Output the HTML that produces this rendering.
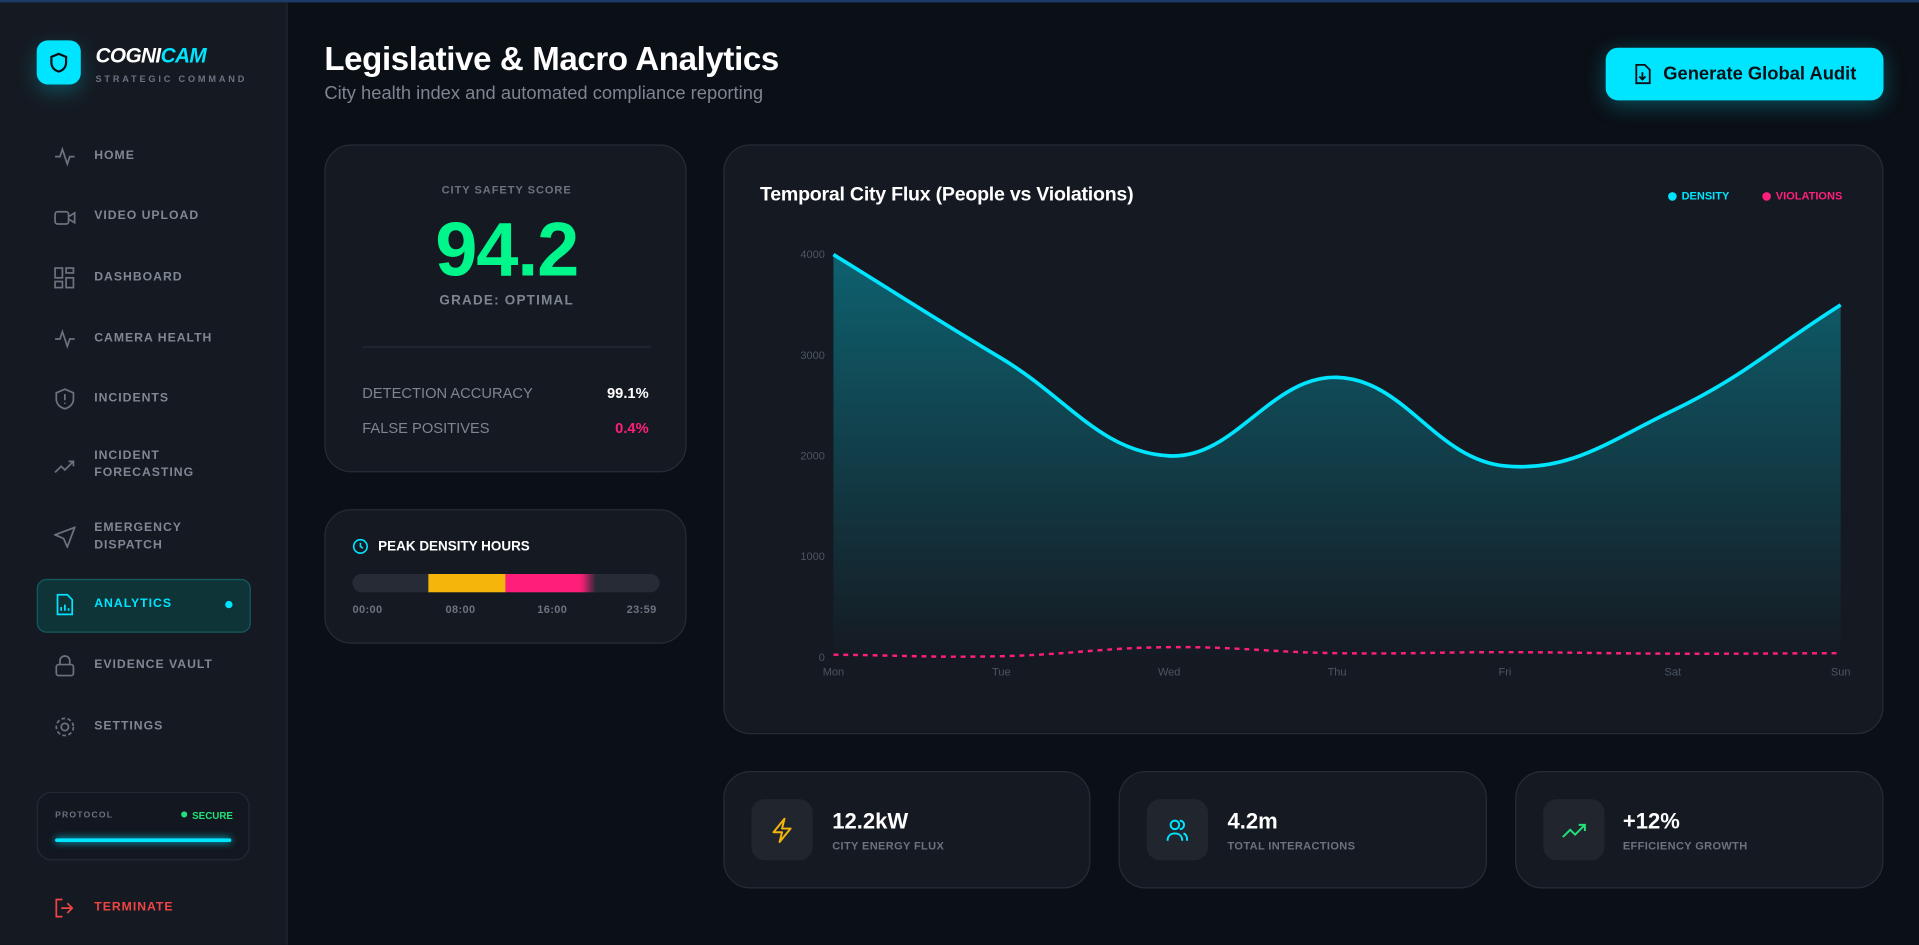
<!DOCTYPE html>
<html><head><meta charset="utf-8"><style>
*{box-sizing:border-box;margin:0;padding:0}
html,body{width:1919px;height:945px;overflow:hidden;background:#0b0f16;font-family:"Liberation Sans",sans-serif}
#w{position:absolute;left:0;top:0;width:1568px;height:772px;transform:scale(1.22385);transform-origin:0 0;background:#0b0f16}
.a{position:absolute}
.nav{position:absolute;left:77px;font-size:10px;font-weight:bold;color:#7f8794;letter-spacing:.8px;line-height:14px}
.ic{position:absolute;left:44px;width:18px;height:18px}
.card{position:absolute;background:#151a22;border:1px solid #262c36;border-radius:22px}
.lbl{font-size:9px;font-weight:bold;color:#6b7280;letter-spacing:.3px}
</style></head><body>
<div id="w">
<div class="a" style="left:0;top:0;width:1568px;height:2px;background:#1d3b66"></div>
<div class="a" style="left:0;top:2px;width:235px;height:770px;background:#151a22;border-right:1px solid #222833"></div>
<div class="a" style="left:30px;top:33px;width:36px;height:36px;border-radius:9px;background:#00e5ff;box-shadow:0 6px 16px rgba(0,229,255,.25)">
<svg width="36" height="36" viewBox="0 0 36 36"><path d="M18 11l6 2.5v4.5c0 4-2.6 6.5-6 7.5-3.4-1-6-3.5-6-7.5v-4.5z" fill="none" stroke="#0b1016" stroke-width="1.8"/></svg></div>
<div class="a" style="left:78px;top:36px;font-size:17px;font-weight:bold;font-style:italic;color:#fff;letter-spacing:-.5px">COGNI<span style="color:#00e5ff">CAM</span></div>
<div class="a" style="left:78px;top:60px;font-size:7.5px;font-weight:bold;color:#6b7280;letter-spacing:2.3px">STRATEGIC COMMAND</div>

<svg class="ic" style="top:119px" viewBox="0 0 18 18"><path d="M1 9h4l2-6 4 12 2-6h4" fill="none" stroke="#6b7280" stroke-width="1.4"/></svg>
<div class="nav" style="top:121px">HOME</div>
<svg class="ic" style="top:169px" viewBox="0 0 18 18"><rect x="1" y="4" width="11" height="10" rx="2" fill="none" stroke="#6b7280" stroke-width="1.4"/><path d="M12 8l5-3v8l-5-3" fill="none" stroke="#6b7280" stroke-width="1.4"/></svg>
<div class="nav" style="top:170px">VIDEO UPLOAD</div>
<svg class="ic" style="top:218px" viewBox="0 0 18 18"><g fill="none" stroke="#6b7280" stroke-width="1.4"><rect x="1" y="1" width="6" height="8"/><rect x="10" y="1" width="6" height="4"/><rect x="10" y="9" width="6" height="8"/><rect x="1" y="12" width="6" height="5"/></g></svg>
<div class="nav" style="top:220px">DASHBOARD</div>
<svg class="ic" style="top:268px" viewBox="0 0 18 18"><path d="M1 9h4l2-6 4 12 2-6h4" fill="none" stroke="#6b7280" stroke-width="1.4"/></svg>
<div class="nav" style="top:270px">CAMERA HEALTH</div>
<svg class="ic" style="top:317px" viewBox="0 0 18 18"><path d="M9 1l7 3v5c0 4-3 7-7 8-4-1-7-4-7-8V4z" fill="none" stroke="#6b7280" stroke-width="1.4"/><path d="M9 5v5M9 12v1" stroke="#6b7280" stroke-width="1.4"/></svg>
<div class="nav" style="top:319px">INCIDENTS</div>
<svg class="ic" style="top:372px" viewBox="0 0 18 18"><path d="M1 14l5-5 3 3 7-7M12 5h4v4" fill="none" stroke="#6b7280" stroke-width="1.4"/></svg>
<div class="nav" style="top:366px">INCIDENT<br>FORECASTING</div>
<svg class="ic" style="top:430px" viewBox="0 0 18 18"><path d="M17 1L1 7l7 3 3 7z" fill="none" stroke="#6b7280" stroke-width="1.4"/></svg>
<div class="nav" style="top:425px">EMERGENCY<br>DISPATCH</div>
<div class="a" style="left:30px;top:473px;width:175px;height:44px;border-radius:8px;background:#0f3438;border:1px solid #145a60"></div>
<svg class="ic" style="top:485px" viewBox="0 0 18 18"><path d="M3 1h8l4 4v12H3z" fill="none" stroke="#00e5ff" stroke-width="1.4"/><path d="M6 14v-3M9 14V9M12 14v-2" stroke="#00e5ff" stroke-width="1.4"/></svg>
<div class="nav" style="top:487px;color:#00e5ff">ANALYTICS</div>
<div class="a" style="left:184px;top:491px;width:6px;height:6px;border-radius:50%;background:#00e5ff"></div>
<svg class="ic" style="top:535px" viewBox="0 0 18 18"><rect x="2" y="8" width="14" height="9" rx="2" fill="none" stroke="#6b7280" stroke-width="1.4"/><path d="M5 8V5a4 4 0 0 1 8 0v3" fill="none" stroke="#6b7280" stroke-width="1.4"/></svg>
<div class="nav" style="top:537px">EVIDENCE VAULT</div>
<svg class="ic" style="top:585px" viewBox="0 0 18 18"><circle cx="9" cy="9" r="3" fill="none" stroke="#6b7280" stroke-width="1.4"/><circle cx="9" cy="9" r="7" fill="none" stroke="#6b7280" stroke-width="1.4" stroke-dasharray="3 2"/></svg>
<div class="nav" style="top:587px">SETTINGS</div>

<div class="a" style="left:30px;top:647px;width:174px;height:56px;border-radius:12px;background:#121720;border:1px solid #242a34"></div>
<div class="a" style="left:45px;top:663px;font-size:7px;font-weight:bold;color:#6b7280;letter-spacing:1px">PROTOCOL</div>
<div class="a" style="left:148px;top:662px;font-size:8px;font-weight:bold;color:#22e07a"><span style="display:inline-block;width:5px;height:5px;border-radius:50%;background:#22e07a;margin-right:4px;vertical-align:1px"></span>SECURE</div>
<div class="a" style="left:45px;top:685px;width:144px;height:3px;border-radius:2px;background:#00e5ff;box-shadow:0 0 6px #00e5ff"></div>
<svg class="ic" style="top:733px" viewBox="0 0 18 18"><path d="M7 2H2v14h5M11 5l4 4-4 4M15 9H6" fill="none" stroke="#ef4444" stroke-width="1.4"/></svg>
<div class="nav" style="top:735px;color:#ef4444">TERMINATE</div>

<div class="a" style="left:265px;top:33px;font-size:27px;font-weight:bold;color:#fff;letter-spacing:-.3px">Legislative &amp; Macro Analytics</div>
<div class="a" style="left:265px;top:68px;font-size:15px;color:#7d8590">City health index and automated compliance reporting</div>
<div class="a" style="left:1312px;top:39px;width:227px;height:43px;border-radius:10px;background:#00e5ff;box-shadow:0 4px 18px rgba(0,229,255,.3);font-size:15px;font-weight:bold;color:#0b1016;line-height:43px;padding-left:47px">
<svg style="position:absolute;left:22px;top:13px" width="16" height="17" viewBox="0 0 16 17"><path d="M3 1h7l4 4v11H3z M8 7v6M5.5 10.5L8 13l2.5-2.5" fill="none" stroke="#0b1016" stroke-width="1.5"/></svg>Generate Global Audit</div>

<div class="card" style="left:265px;top:118px;width:296px;height:268px">
<div class="a lbl" style="left:0;width:296px;text-align:center;top:31px;font-size:9px;letter-spacing:.8px">CITY SAFETY SCORE</div>
<div class="a" style="left:0;width:296px;text-align:center;top:50px;font-size:62px;font-weight:bold;color:#00f58a;letter-spacing:-1px">94.2</div>
<div class="a" style="left:0;width:296px;text-align:center;top:121px;font-size:11px;font-weight:bold;color:#7d8590;letter-spacing:1px">GRADE: OPTIMAL</div>
<div class="a" style="left:30px;top:164px;width:236px;height:1px;background:#262c36"></div>
<div class="a" style="left:30px;top:195px;font-size:12px;color:#7d8590">DETECTION ACCURACY</div>
<div class="a" style="right:30px;top:195px;font-size:12px;font-weight:bold;color:#fff">99.1%</div>
<div class="a" style="left:30px;top:224px;font-size:12px;color:#7d8590">FALSE POSITIVES</div>
<div class="a" style="right:30px;top:224px;font-size:12px;font-weight:bold;color:#ff1f7a">0.4%</div>
</div>

<div class="card" style="left:265px;top:416px;width:296px;height:110px">
<svg class="a" style="left:22px;top:23px" width="13" height="13" viewBox="0 0 13 13"><circle cx="6.5" cy="6.5" r="5.5" fill="none" stroke="#00e5ff" stroke-width="1.3"/><path d="M6.5 3.5v3l2 1.5" fill="none" stroke="#00e5ff" stroke-width="1.3"/></svg>
<div class="a" style="left:43px;top:24px;font-size:11px;font-weight:bold;color:#fff">PEAK DENSITY HOURS</div>
<div class="a" style="left:22px;top:52px;width:251px;height:15px;border-radius:8px;background:#262b35;overflow:hidden">
<div class="a" style="left:62px;top:0;width:63px;height:15px;background:#f5b50a"></div>
<div class="a" style="left:125px;top:0;width:62px;height:15px;background:#ff1f7a"></div>
<div class="a" style="left:187px;top:0;width:12px;height:15px;background:linear-gradient(90deg,#ff1f7a,#262b35)"></div></div>
<div class="a lbl" style="left:22px;top:76px">00:00</div>
<div class="a lbl" style="left:98px;top:76px">08:00</div>
<div class="a lbl" style="left:173px;top:76px">16:00</div>
<div class="a lbl" style="left:246px;top:76px">23:59</div>
</div>

<div class="card" style="left:591px;top:118px;width:948px;height:482px"></div>
<div class="a" style="left:621px;top:151px;font-size:16px;font-weight:bold;color:#fff;letter-spacing:-.2px">Temporal City Flux (People vs Violations)</div>
<div class="a" style="left:1363px;top:155px;font-size:9px;font-weight:bold;color:#00e5ff"><span style="display:inline-block;width:7px;height:7px;border-radius:50%;background:#00e5ff;margin-right:4px;vertical-align:-1px"></span>DENSITY</div>
<div class="a" style="left:1440px;top:155px;font-size:9px;font-weight:bold;color:#ff1f7a"><span style="display:inline-block;width:7px;height:7px;border-radius:50%;background:#ff1f7a;margin-right:4px;vertical-align:-1px"></span>VIOLATIONS</div>
<svg id="chart" class="a" style="left:0;top:0" width="1568" height="772">
<defs><linearGradient id="g" x1="0" y1="0" x2="0" y2="1"><stop offset="0" stop-color="#00e5ff" stop-opacity=".35"/><stop offset="1" stop-color="#00e5ff" stop-opacity="0"/></linearGradient></defs>
</svg>

<div class="card" style="left:591px;top:630px;width:300px;height:96px"></div>
<div class="card" style="left:914px;top:630px;width:301px;height:96px"></div>
<div class="card" style="left:1238px;top:630px;width:301px;height:96px"></div>
<div class="a" style="left:614px;top:653px;width:50px;height:50px;border-radius:11px;background:#21262e"><svg width="50" height="50" viewBox="0 0 50 50"><path d="M27 16l-9 11h7l-2 8 9-11h-7z" fill="none" stroke="#f5b50a" stroke-width="1.6" stroke-linejoin="round"/></svg></div>
<div class="a" style="left:937px;top:653px;width:50px;height:50px;border-radius:11px;background:#21262e"><svg width="50" height="50" viewBox="0 0 50 50"><g fill="none" stroke="#00e5ff" stroke-width="1.6"><circle cx="23" cy="21" r="3.5"/><path d="M17 34c0-4 2.5-6 6-6s6 2 6 6M27 17.5a3.5 3.5 0 0 1 0 7M30 28c2 .5 3 2.5 3 6"/></g></svg></div>
<div class="a" style="left:1261px;top:653px;width:50px;height:50px;border-radius:11px;background:#21262e"><svg width="50" height="50" viewBox="0 0 50 50"><path d="M16 31l6-6 4 4 8-8M29 21h5v5" fill="none" stroke="#22e07a" stroke-width="1.6"/></svg></div>
<div class="a" style="left:680px;top:661px;font-size:18px;font-weight:bold;color:#fff">12.2kW</div>
<div class="a lbl" style="left:680px;top:686px">CITY ENERGY FLUX</div>
<div class="a" style="left:1003px;top:661px;font-size:18px;font-weight:bold;color:#fff">4.2m</div>
<div class="a lbl" style="left:1003px;top:686px">TOTAL INTERACTIONS</div>
<div class="a" style="left:1326px;top:661px;font-size:18px;font-weight:bold;color:#fff">+12%</div>
<div class="a lbl" style="left:1326px;top:686px">EFFICIENCY GROWTH</div>
</div>
<script>
const days=['Mon','Tue','Wed','Thu','Fri','Sat','Sun'];
const density=[4000,2970,2000,2780,1900,2450,3500];
const violations=[25,10,100,40,50,35,40];
const yTicks=[0,1000,2000,3000,4000];
const NS='http://www.w3.org/2000/svg';
const svg=document.getElementById('chart');
const X0=681,X1=1504,Y0=537,Y1=208,YMAX=4000;
const xs=i=>X0+(X1-X0)*i/(days.length-1);
const ys=v=>Y0-(Y0-Y1)*v/YMAX;
function mk(t,a){const e=document.createElementNS(NS,t);for(const k in a)e.setAttribute(k,a[k]);svg.appendChild(e);return e;}
function curve(vals){
  const p=vals.map((v,i)=>[xs(i),ys(v)]);const t=0.4;let d='M'+p[0][0]+','+p[0][1];
  const cp=p.map((c,i)=>{const pr=p[Math.max(i-1,0)],nx=p[Math.min(i+1,p.length-1)];
    const d01=Math.hypot(c[0]-pr[0],c[1]-pr[1]),d12=Math.hypot(nx[0]-c[0],nx[1]-c[1]);
    const s=d01+d12||1,fa=t*d01/s,fb=t*d12/s;
    return [[c[0]-fa*(nx[0]-pr[0]),c[1]-fa*(nx[1]-pr[1])],[c[0]+fb*(nx[0]-pr[0]),c[1]+fb*(nx[1]-pr[1])]];});
  for(let i=1;i<p.length;i++){const a=cp[i-1][1],b=cp[i][0];d+=` C${a[0]},${a[1]} ${b[0]},${b[1]} ${p[i][0]},${p[i][1]}`;}
  return d;}
yTicks.forEach(v=>{
  const t=mk('text',{x:674,y:ys(v)+3,'text-anchor':'end','font-size':9,fill:'#4b5563','font-family':'Liberation Sans'});
  t.textContent=v;
  
  
});
days.forEach((d,i)=>{
  const t=mk('text',{x:xs(i),y:552,'text-anchor':'middle','font-size':9,fill:'#4b5563','font-family':'Liberation Sans'});
  t.textContent=d;
  
  
});
const dc=curve(density);
const area=mk('path',{d:dc+` L${xs(days.length-1)},${Y0} L${xs(0)},${Y0} Z`,fill:'url(#g)'});


const line=mk('path',{d:dc,fill:'none',stroke:'#00e5ff','stroke-width':3});


const vl=mk('path',{d:curve(violations),fill:'none',stroke:'#ff1f7a','stroke-width':2,'stroke-dasharray':'4 4'});


</script>
</body></html>
